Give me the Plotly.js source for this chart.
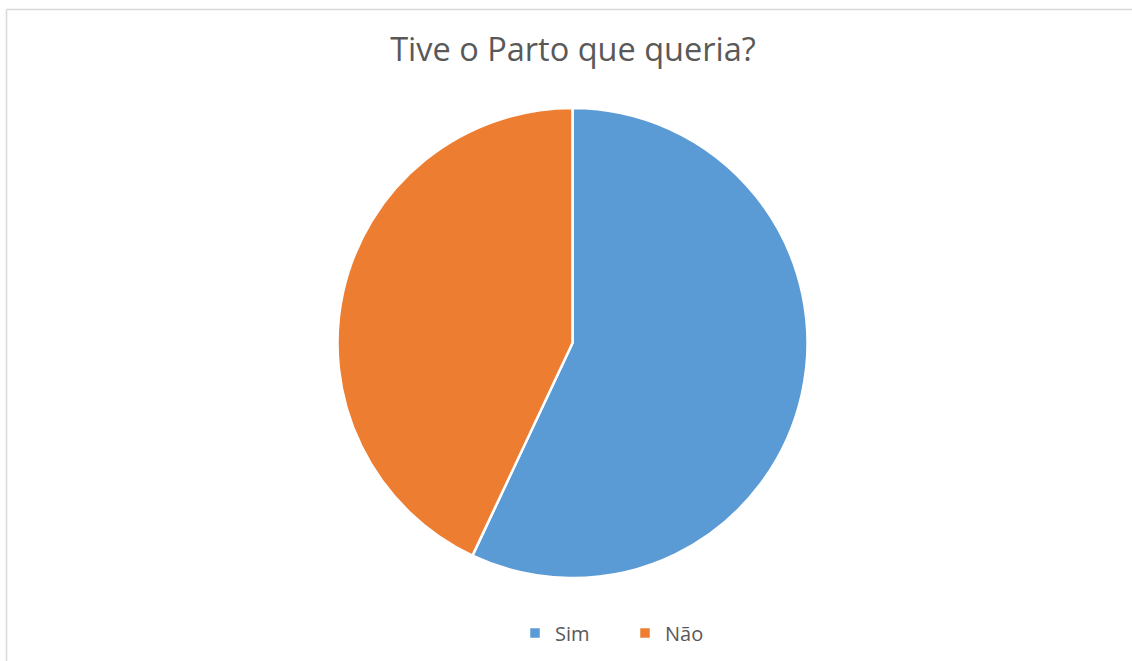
<!DOCTYPE html>
<html>
<head>
<meta charset="utf-8">
<script src="https://cdn.plot.ly/plotly-3.0.1.min.js"></script>
<style>html,body{margin:0;padding:0;background:#fff;}#chart{width:1132px;height:661px;}</style>
</head>
<body>
<div id="chart"></div>
<script>
const categories = ["Sim", "Não"];
const values = [57, 43];
const colors = ["#5B9BD5", "#ED7D31"];
const titleText = "Tive o Parto que queria?";

const W = 1132, H = 661;
const cx = 572.5, cy = 343, r = 235;

const trace = {
  type: "pie",
  labels: categories,
  values: values,
  sort: false,
  direction: "clockwise",
  rotation: 0,
  textinfo: "none",
  hoverinfo: "label+value+percent",
  marker: { colors: colors, line: { color: "#ffffff", width: 2.5 } },
  domain: { x: [(cx - r) / W, (cx + r) / W], y: [(H - cy - r) / H, (H - cy + r) / H] }
};

const layout = {
  width: W, height: H,
  margin: { l: 0, r: 0, t: 0, b: 0 },
  paper_bgcolor: "#ffffff",
  title: { text: titleText, x: 573 / W, xanchor: "center", y: 1 - 50 / H, yanchor: "middle",
           font: { family: "Open Sans, Liberation Sans, sans-serif", size: 32.5, color: "#595959" } },
  showlegend: true,
  legend: { orientation: "h", x: 625 / W, xanchor: "center", y: 1 - 633 / H, yanchor: "middle",
            font: { family: "Open Sans, Liberation Sans, sans-serif", size: 20, color: "#595959" },
            entrywidth: 65, entrywidthmode: "pixels", itemwidth: 30, traceorder: "normal" },
  shapes: [
    { type: "line", xref: "paper", yref: "paper", x0: 6.5 / W, x1: 1, y0: 1 - 9.5 / H, y1: 1 - 9.5 / H,
      line: { color: "#d9d9d9", width: 1.5 } },
    { type: "line", xref: "paper", yref: "paper", x0: 6.5 / W, x1: 6.5 / W, y0: 0, y1: 1 - 9.5 / H,
      line: { color: "#d9d9d9", width: 1.5 } }
  ]
};

Plotly.newPlot("chart", [trace], layout, { displayModeBar: false, staticPlot: true });
</script>
</body>
</html>
